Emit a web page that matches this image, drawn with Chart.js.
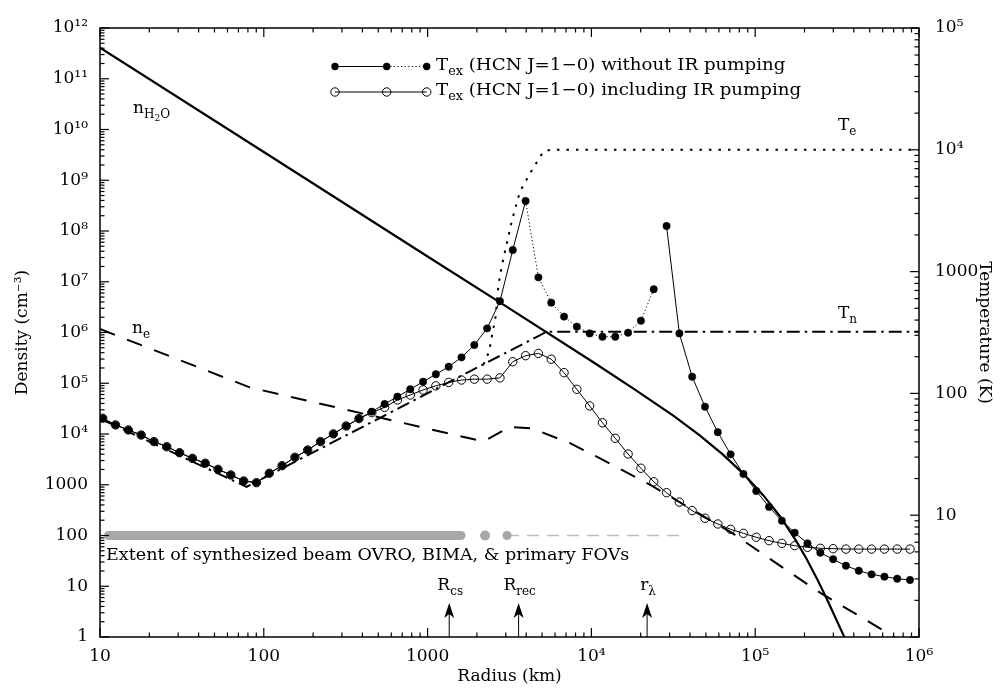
<!DOCTYPE html>
<html><head><meta charset="utf-8">
<script src="https://cdn.jsdelivr.net/npm/chart.js@4.4.1/dist/chart.umd.min.js"></script>
<style>html,body{margin:0;padding:0;background:#fff;}#wrap{width:1006px;height:688px;}</style>
</head><body><div id="wrap"><canvas id="c" width="1006" height="688"></canvas></div>
<script>
// ---------------- data ----------------
const radiusTex = [10.39,12.44,14.89,17.84,21.35,25.56,30.61,36.65,43.89,52.55,62.92,75.36,90.22,108.0,129.3,154.9,185.4,222.0,265.9,318.4,381.2,456.5,546.6,654.4,783.7,938.4,1123,1345,1611,1929,2309,2765,3311,3965,4747,5684,6807,8150,9757,11685,13990,16750,20060,24020,28760,34440,41230,49370,59120,70790,84760,101500,121500,145500,174200,208600,249800,299100,358100,428800,513400,614800,736100,881400];
const texNoIR = [62.5,55.1,50.1,45.5,40.2,36.5,32.6,29.3,26.7,23.8,21.4,19.1,18.5,22.1,25.5,29.9,34.3,40.2,46.5,54.0,62.1,70.8,81.8,94.0,108.1,124.7,143.5,165.6,197.7,249.5,342,571,1503,3802,897,556,427,353,311,292,292,315,395,716,2366,311,137,77.8,48.0,31.6,21.8,15.8,11.7,9.0,7.18,5.87,4.92,4.35,3.85,3.50,3.27,3.13,3.01,2.94];
const texIR = [62.5,55.1,50.1,45.5,40.2,36.5,32.6,29.3,26.7,23.8,21.4,19.1,18.5,22.1,25.5,29.9,34.3,40.2,46.5,54.0,62.1,69.5,76.9,88.3,97.1,106.7,115.3,123.0,128.8,130.9,130.9,134.0,182,204,213,191,148,108,78.9,57.4,42.8,31.8,24.3,18.8,15.3,12.8,10.9,9.44,8.47,7.66,7.10,6.59,6.18,5.87,5.62,5.45,5.35,5.31,5.27,5.27,5.27,5.27,5.27,5.27];

const radiusH2O = [10,100,1000,3000,10000,17780,31620,46030,63100,84530,112200,141600,177800,206100,239900,272900,316200,345100,398100];
const nH2O = [4.1e11,3.6e9,3.15e7,3.3e6,2.75e5,8.1e4,2.3e4,9.3e3,4.0e3,1.66e3,617,240,78.5,34.4,13.5,5.75,2.04,1.10,0.40];

const radiusNe = [10,82,2190,3190,4300,4850,7400,11300,22800,73000,140000,250000,440000,690000,900000];
const nE = [1.17e6,8.3e4,7.1e3,1.38e4,1.3e4,1.12e4,6.6e3,3.3e3,1.0e3,110,26,7.4,2.5,1.05,0.58];

const radiusTn = [10,78.5,5330,1e6];
const tN = [62,17.1,321,321];

const radiusTe = [2190,2300,2400,2600,2700,2830,3260,3660,4220,5080,5600,1e6];
const tE = [173,195,240,427,759,1096,2570,4530,6410,9660,10000,10000];

const beamLevel = 100;
const beamBarRadius = [11.3,1600];
const beamDotRadius = [2244,3055];
const beamFovRadius = [3055,35650];

const markerRadius = [1355,3594,21880];
const markerLabels = [['R','cs'],['R','rec'],['r','\u03bb']];

const xRange = [10,1e6];
const densityRange = [1,1e12];
const temperatureRange = [1,1e5];
const tickMantissas = [1,2,3,4,5,6,7,8,9];

const legendTexts = [' (HCN J=1\u22120) without IR pumping',' (HCN J=1\u22120) including IR pumping'];
const extentText = 'Extent of synthesized beam OVRO, BIMA, & primary FOVs';

// ---------------- style / helpers ----------------
const FONT = '"DejaVu Serif", serif';
const noIRDotted = [33,43];   // segments drawn dotted
const noIRGap = 43;           // segment not drawn
const SUP = {'0':'\u2070','1':'\u00b9','2':'\u00b2','3':'\u00b3','4':'\u2074','5':'\u2075','6':'\u2076','7':'\u2077','8':'\u2078','9':'\u2079','-':'\u207b'};
function isPow10(v){const e=Math.log10(v);return Math.abs(e-Math.round(e))<1e-9;}
function powLabel(v){const e=Math.round(Math.log10(v));if(e<=3)return String(Math.round(Math.pow(10,e)));return '10'+String(e).split('').map(c=>SUP[c]).join('');}
function buildLogTicks(scale){
  const lo=Math.round(Math.log10(scale.min)),hi=Math.round(Math.log10(scale.max));const t=[];
  for(let e=lo;e<=hi;e++){for(const m of tickMantissas){const v=m*Math.pow(10,e);if(v>=scale.min*0.999&&v<=scale.max*1.001)t.push({value:v});}}
  scale.ticks=t;
}
function pts(xs,ys){return xs.map((x,i)=>({x:x,y:ys[i]}));}
// draws text made of parts [text, sizePx, baselineShift]; sx stretches horizontally
function drawRich(ctx,x,y,parts,align,sx){
  sx=sx||1;
  let w=0;for(const p of parts){ctx.font=p[1]+'px '+FONT;w+=ctx.measureText(p[0]).width;}
  ctx.save();
  ctx.translate(align==='center'?x-w*sx/2:x,y);ctx.scale(sx,1);
  let cx=0;
  for(const p of parts){ctx.font=p[1]+'px '+FONT;ctx.fillText(p[0],cx,p[2]);cx+=ctx.measureText(p[0]).width;}
  ctx.restore();
}

const frameTicks={id:'frameTicks',afterDatasetsDraw(chart){
  const {ctx,chartArea:a,scales}=chart;ctx.save();ctx.strokeStyle='#000';ctx.lineWidth=1.2;
  const maj=9,min=4.5;
  const ln=(x1,y1,x2,y2)=>{ctx.beginPath();ctx.moveTo(x1,y1);ctx.lineTo(x2,y2);ctx.stroke();};
  for(const t of scales.x.ticks){const p=scales.x.getPixelForValue(t.value);const L=isPow10(t.value)?maj:min;ln(p,a.bottom,p,a.bottom-L);ln(p,a.top,p,a.top+L);}
  for(const t of scales.y.ticks){const p=scales.y.getPixelForValue(t.value);const L=isPow10(t.value)?maj:min;ln(a.left,p,a.left+L,p);}
  for(const t of scales.y2.ticks){const p=scales.y2.getPixelForValue(t.value);const L=isPow10(t.value)?maj:min;ln(a.right,p,a.right-L,p);}
  ctx.lineWidth=1.5;ctx.strokeRect(a.left,a.top,a.right-a.left,a.bottom-a.top);
  ctx.restore();
}};

const annotations={id:'annotations',afterDraw(chart){
  const {ctx,chartArea:a,scales}=chart;ctx.save();ctx.fillStyle='#000';ctx.strokeStyle='#000';ctx.textBaseline='alphabetic';
  // legend
  const lx=[335,386.7,426.7],r1=66.5,r2=92;
  ctx.lineWidth=1;
  ctx.beginPath();ctx.moveTo(lx[0],r1);ctx.lineTo(lx[1],r1);ctx.stroke();
  ctx.setLineDash([1.2,2.4]);ctx.beginPath();ctx.moveTo(lx[1],r1);ctx.lineTo(lx[2],r1);ctx.stroke();ctx.setLineDash([]);
  for(const x of lx){ctx.beginPath();ctx.arc(x,r1,3.7,0,Math.PI*2);ctx.fill();}
  ctx.beginPath();ctx.moveTo(lx[0],r2);ctx.lineTo(lx[2],r2);ctx.stroke();
  for(const x of lx){ctx.beginPath();ctx.arc(x,r2,4.2,0,Math.PI*2);ctx.stroke();}
  drawRich(ctx,436,r1+3,[['T',17,0],['ex',12,5],[legendTexts[0],17,0]],'left',1.07);
  drawRich(ctx,436,r2+3,[['T',17,0],['ex',12,5],[legendTexts[1],17,0]],'left',1.07);
  // curve labels
  drawRich(ctx,133,113,[['n',17,0],['H',12,5],['2',9,8],['O',12,5]]);
  drawRich(ctx,132,333,[['n',17,0],['e',12,5]]);
  drawRich(ctx,838,130,[['T',17,0],['e',12,5]]);
  drawRich(ctx,838,318,[['T',17,0],['n',12,5]]);
  drawRich(ctx,106,560,[[extentText,17,0]],'left',1.034);
  // arrows
  markerRadius.forEach((r,i)=>{
    const x=scales.x.getPixelForValue(r),yb=a.bottom,tip=a.bottom-34;
    ctx.lineWidth=1;ctx.beginPath();ctx.moveTo(x,yb);ctx.lineTo(x,tip+10);ctx.stroke();
    ctx.beginPath();ctx.moveTo(x,tip);ctx.lineTo(x+5,tip+15);ctx.lineTo(x,tip+11);ctx.lineTo(x-5,tip+15);ctx.closePath();ctx.fill();
    drawRich(ctx,x+1,a.bottom-47,[[markerLabels[i][0],17,0],[markerLabels[i][1],12,5]],'center');
  });
  ctx.restore();
}};

const lineBase={showLine:true,pointRadius:0,fill:false,tension:0,borderColor:'#000'};
const tickFont={family:FONT,size:17};

new Chart(document.getElementById('c'),{
  type:'scatter',
  data:{datasets:[
    {label:'Tex without IR pumping',data:pts(radiusTex,texNoIR),yAxisID:'y2',showLine:true,borderColor:'#000',borderWidth:1,
     pointRadius:3.7,pointBackgroundColor:'#000',pointBorderColor:'#000',pointBorderWidth:0.5,
     segment:{borderDash:c=>(c.p0DataIndex>=noIRDotted[0]&&c.p0DataIndex<noIRDotted[1])?[1.2,2.4]:undefined,
              borderColor:c=>c.p0DataIndex===noIRGap?'rgba(0,0,0,0)':undefined}},
    {label:'Tex including IR pumping',data:pts(radiusTex,texIR),yAxisID:'y2',showLine:true,borderColor:'#000',borderWidth:1,
     pointRadius:4.2,pointBackgroundColor:'rgba(0,0,0,0)',pointBorderColor:'#000',pointBorderWidth:1},
    Object.assign({label:'nH2O',data:pts(radiusH2O,nH2O),yAxisID:'y',borderWidth:2.2},lineBase),
    Object.assign({label:'ne',data:pts(radiusNe,nE),yAxisID:'y',borderWidth:2,borderDash:[16,13]},lineBase),
    Object.assign({label:'Tn',data:pts(radiusTn,tN),yAxisID:'y2',borderWidth:2,borderDash:[13,5,2.5,5]},lineBase),
    Object.assign({label:'Te',data:pts(radiusTe,tE),yAxisID:'y2',borderWidth:2,borderDash:[2.5,7]},lineBase),
    {label:'beam dots',data:beamDotRadius.map(r=>({x:r,y:beamLevel})),yAxisID:'y',showLine:false,pointRadius:[5,4.6],pointBackgroundColor:'#a8a8a8',pointBorderWidth:0},
    {label:'primary FOV',data:beamFovRadius.map(r=>({x:r,y:beamLevel})),yAxisID:'y',showLine:true,pointRadius:0,borderColor:'#bdbdbd',borderWidth:1.5,borderDash:[12,8]},
    {label:'beam',data:beamBarRadius.map(r=>({x:r,y:beamLevel})),yAxisID:'y',showLine:true,pointRadius:0,borderColor:'#a8a8a8',borderWidth:9,borderCapStyle:'round'}
  ]},
  options:{
    responsive:false,animation:false,devicePixelRatio:1,
    layout:{padding:{top:28,left:0,right:0,bottom:0}},
    plugins:{legend:{display:false},tooltip:{enabled:false}},
    scales:{
      x:{type:'logarithmic',position:'bottom',min:xRange[0],max:xRange[1],afterBuildTicks:buildLogTicks,afterFit:s=>{s.height=51;},
         grid:{display:false,drawTicks:false},border:{display:false},
         ticks:{autoSkip:false,maxRotation:0,minRotation:0,padding:9,color:'#000',font:tickFont,callback:v=>isPow10(v)?powLabel(v):''},
         title:{display:true,text:'Radius (km)',color:'#000',font:tickFont,padding:{top:0,bottom:1}}},
      y:{type:'logarithmic',position:'left',min:densityRange[0],max:densityRange[1],afterBuildTicks:buildLogTicks,afterFit:s=>{s.width=100;},
         grid:{display:false,drawTicks:false},border:{display:false},
         ticks:{autoSkip:false,padding:12,color:'#000',font:tickFont,callback:v=>isPow10(v)?powLabel(v):''},
         title:{display:true,text:'Density (cm\u207b\u00b3)',color:'#000',font:tickFont,padding:{top:12,bottom:0}}},
      y2:{type:'logarithmic',position:'right',min:temperatureRange[0],max:temperatureRange[1],afterBuildTicks:buildLogTicks,afterFit:s=>{s.width=87;},
         grid:{display:false,drawTicks:false},border:{display:false},
         ticks:{autoSkip:false,padding:16,color:'#000',font:tickFont,callback:v=>(isPow10(v)&&v>1)?powLabel(v):''},
         title:{display:true,text:'Temperature (K)',color:'#000',font:tickFont,padding:{top:11,bottom:0}}}
    }
  },
  plugins:[frameTicks,annotations]
});
</script></body></html>
